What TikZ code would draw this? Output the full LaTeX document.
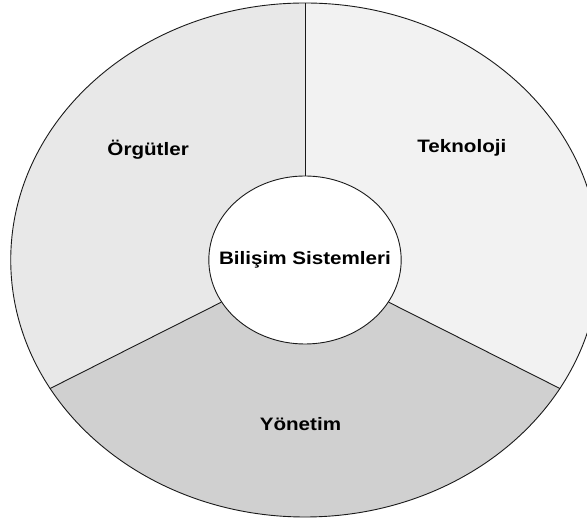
\documentclass[tikz,border=0pt]{standalone}
\usepackage{fontspec}
\setmainfont{Liberation Sans}
\usetikzlibrary{calc}
\definecolor{orgfill}{HTML}{E8E8E8}
\definecolor{tekfill}{HTML}{F2F2F2}
\definecolor{yonfill}{HTML}{D0D0D0}
\definecolor{ink}{HTML}{1A1A1A}
\tikzset{
  sector/.style={fill=#1,draw=none},
  rim/.style={draw=ink,line width=0.9pt},
  hub/.style={circle,draw=ink,line width=0.9pt,fill=white,minimum size=168pt,inner sep=0pt,font=\fontsize{18}{20}\selectfont\bfseries},
  lbl/.style={font=\fontsize{18}{20}\selectfont\bfseries,text=black},
}

\begin{document}
\begin{tikzpicture}[x=1pt,y=1pt]
  \useasboundingbox[fill=white] (0,0) rectangle (587,519);
  \begin{scope}[shift={(305,259)},xscale=1.145,transform shape]
    % three sectors
    \fill[sector=orgfill] (0,0) -- (90:257) arc[start angle=90,end angle=210,radius=257] -- cycle;
    \fill[sector=yonfill] (0,0) -- (210:257) arc[start angle=210,end angle=330,radius=257] -- cycle;
    \fill[sector=tekfill] (0,0) -- (330:257) arc[start angle=330,end angle=450,radius=257] -- cycle;
    \draw[rim] (0,0) circle[radius=257];
    \node[hub] (bs) at (0,0) {Bilişim Sistemleri};
    \coordinate (top) at (90:257);
    \coordinate (lft) at (210:257);
    \coordinate (rgt) at (330:257);
    \foreach \a/\b in {90/top,210/lft,330/rgt} \draw[rim] (bs.\a) -- (\b);
    \node[lbl] (org) at (-137,110) {Örgütler};
    \node[lbl] (tek) at (137,112) {Teknoloji};
    \node[lbl] (yon) at (-4,-164) {Yönetim};
  \end{scope}
\end{tikzpicture}
\end{document}
